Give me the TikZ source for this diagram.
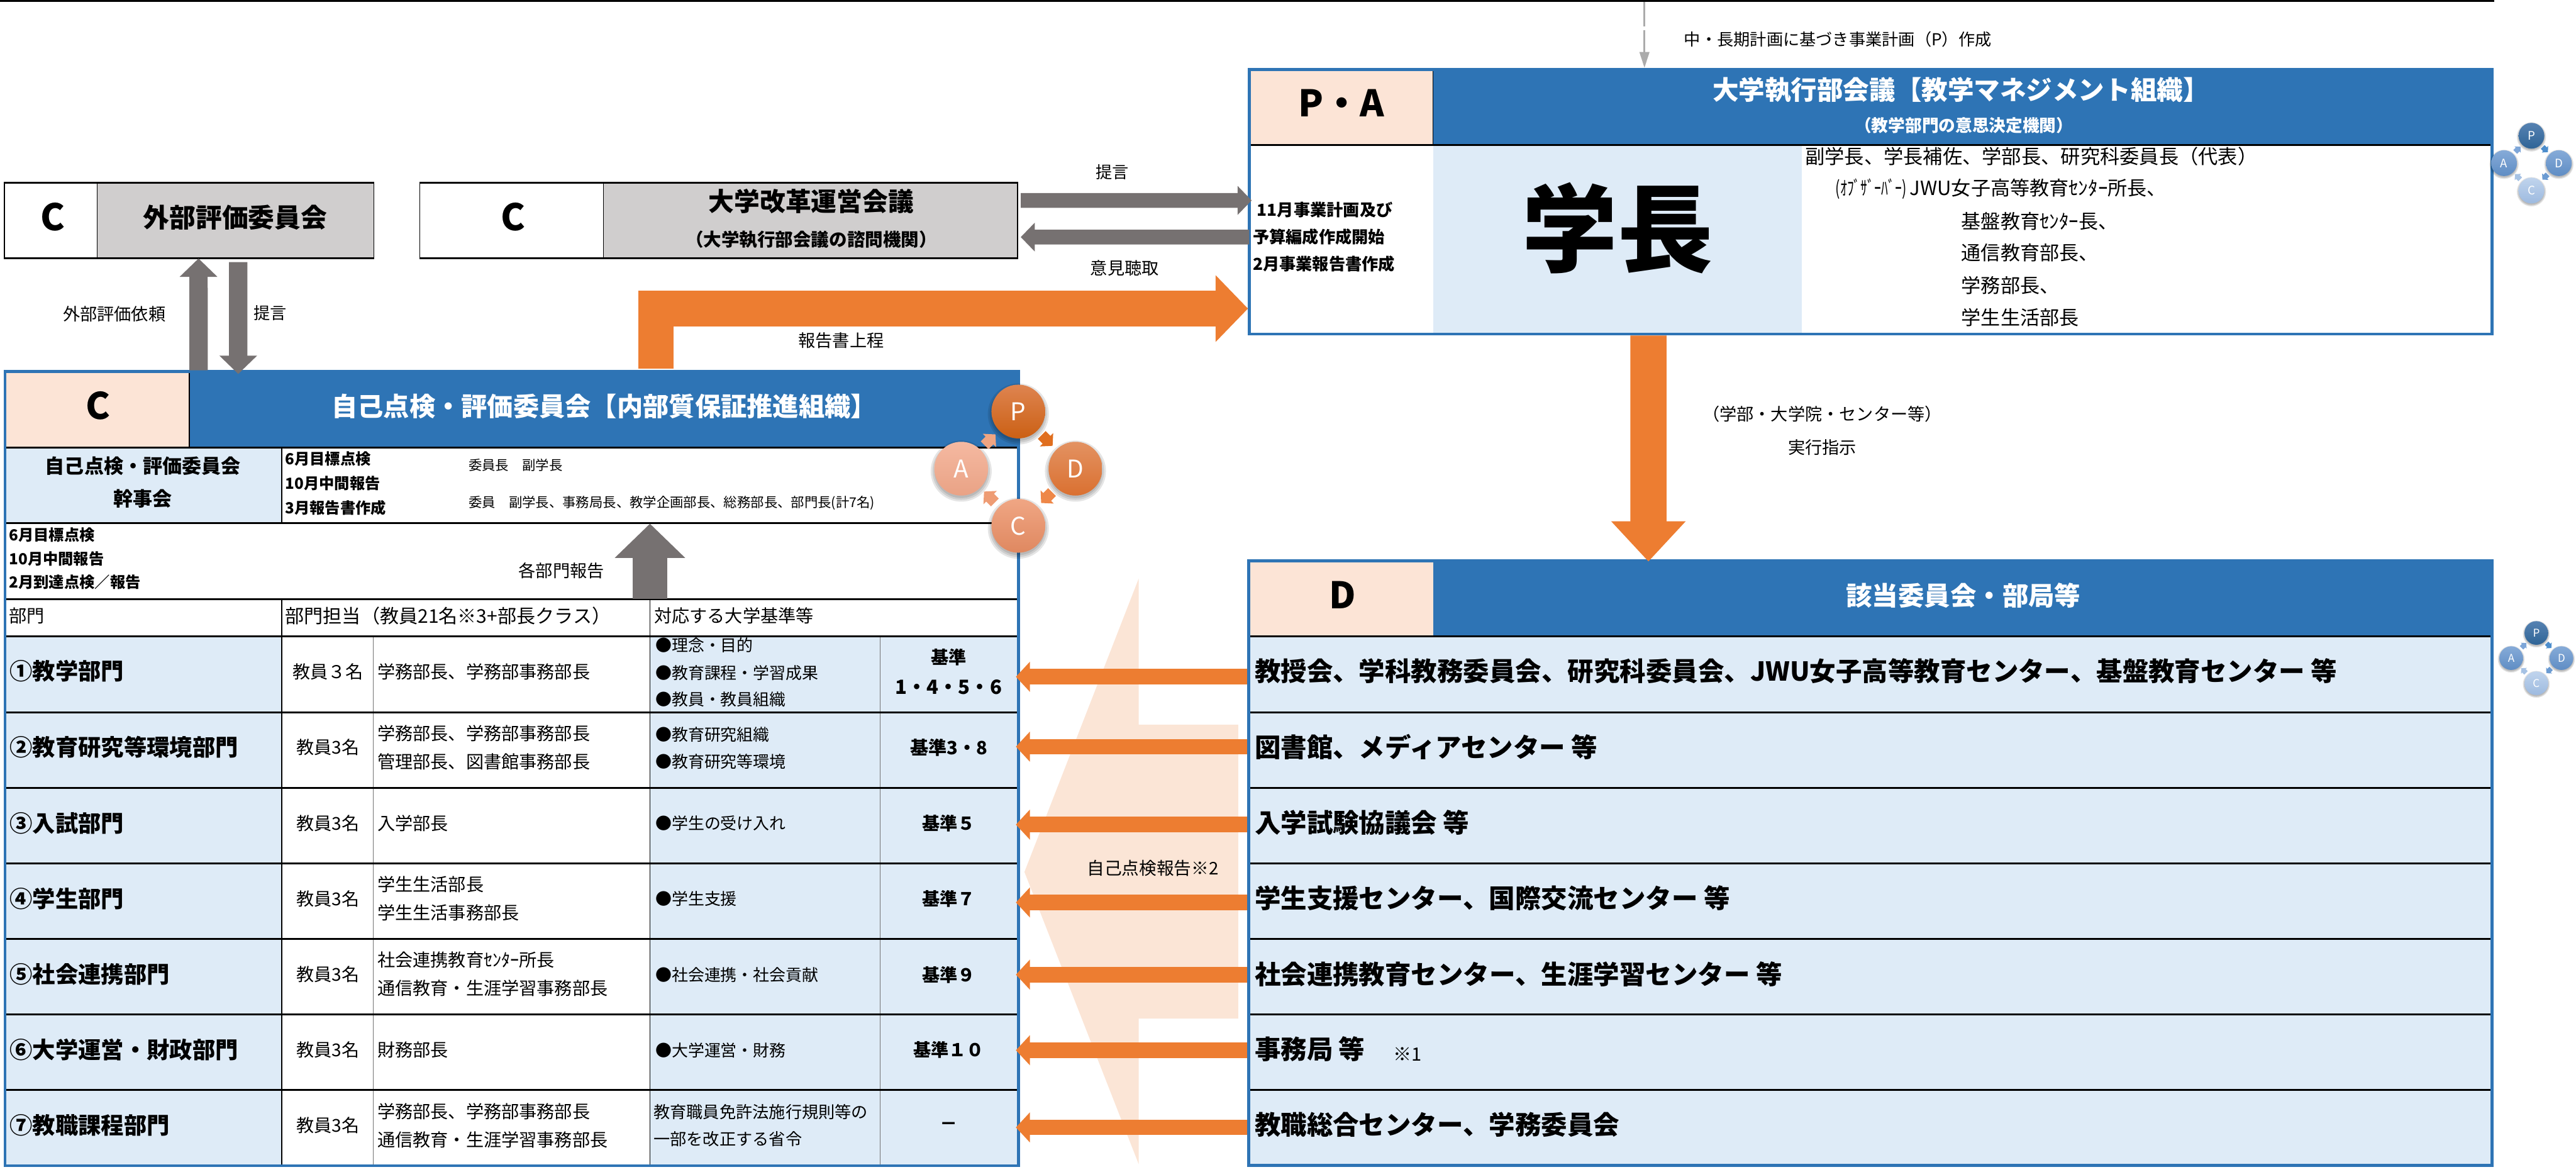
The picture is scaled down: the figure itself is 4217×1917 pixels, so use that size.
\documentclass[tikz,border=0pt]{standalone}
\usepackage{fontspec}
\usepackage{graphicx}
\setmainfont{Noto Sans CJK JP}
\usetikzlibrary{arrows.meta,calc}
\definecolor{hdrblue}{HTML}{2E74B5}
\definecolor{ltblue}{HTML}{DEEBF7}
\definecolor{peach}{HTML}{FCE4D6}
\definecolor{peachbig}{HTML}{FBE5D6}
\definecolor{cgray}{HTML}{D0CECE}
\definecolor{arrgray}{HTML}{767171}
\definecolor{orng}{HTML}{ED7D31}
\definecolor{dashgray}{HTML}{ABABAB}
\newcommand{\fz}[2][0]{\pgfmathsetmacro\fzs{#2*0.2845}\pgfmathsetmacro\fzl{(#1==0 ? 1.2*#2 : #1)*0.2845}\fontsize{\fzs}{\fzl}\selectfont}
\newcommand{\rbox}[6]{\pgfmathsetmacro\rw{(#4-#2)/10}\pgfmathsetmacro\rh{(#5-#3)/10}\node[inner sep=0,outer sep=0,minimum width=\rw mm,minimum height=\rh mm,#6] (#1) at ({(#2+#4)/2},{(#3+#5)/2}) {};}
\newcommand{\pdcaset}[4]{%
\pgfmathsetmacro\ps{#4}\pgfmathsetmacro\pr{2*44*#4/10}\pgfmathsetmacro\pd{93.5*#4}\pgfmathsetmacro\psh{4*#4}%
\foreach \qx/\qy in {0/-1,1/0,0/1,-1/0}{\foreach \qk in {6,3,0}{\fill[black,opacity=.1] ({#2+\qx*\pd},{#3+\qy*\pd+\psh}) circle[radius={(44+\qk)*#4}];}}%
\node[pdcac,minimum size=\pr mm,top color=#1Pt,bottom color=#1Pb,font=\fz{40*#4}] (#1P) at (#2,{#3-\pd}) {P};
\node[pdcac,minimum size=\pr mm,top color=#1Dt,bottom color=#1Db,font=\fz{40*#4}] (#1D) at ({#2+\pd},#3) {D};
\node[pdcac,minimum size=\pr mm,top color=#1Ct,bottom color=#1Cb,font=\fz{40*#4}] (#1C) at (#2,{#3+\pd}) {C};
\node[pdcac,minimum size=\pr mm,top color=#1At,bottom color=#1Ab,font=\fz{40*#4}] (#1A) at ({#2-\pd},#3) {A};
\pgfmathsetmacro\plw{1.8*#4}\pgfmathsetmacro\plh{1.4*#4}\pgfmathsetmacro\pwh{3*#4}%
\draw[draw=#1Pa,line width=\plw mm,-{Triangle[length=\plh mm,width=\pwh mm]}] ($(#1P)!.41!(#1D)$) -- ($(#1P)!.6!(#1D)$);
\draw[draw=#1Da,line width=\plw mm,-{Triangle[length=\plh mm,width=\pwh mm]}] ($(#1D)!.41!(#1C)$) -- ($(#1D)!.6!(#1C)$);
\draw[draw=#1Ca,line width=\plw mm,-{Triangle[length=\plh mm,width=\pwh mm]}] ($(#1C)!.41!(#1A)$) -- ($(#1C)!.6!(#1A)$);
\draw[draw=#1Aa,line width=\plw mm,-{Triangle[length=\plh mm,width=\pwh mm]}] ($(#1A)!.41!(#1P)$) -- ($(#1A)!.6!(#1P)$);
}
\definecolor{oPt}{HTML}{DE8450}\definecolor{oPb}{HTML}{CB6014}
\definecolor{oDt}{HTML}{E39262}\definecolor{oDb}{HTML}{DA7030}
\definecolor{oCt}{HTML}{F0A684}\definecolor{oCb}{HTML}{DF8860}
\definecolor{oAt}{HTML}{F5B9A1}\definecolor{oAb}{HTML}{E9A285}
\definecolor{oPa}{HTML}{E06E1E}\definecolor{oDa}{HTML}{EE8748}
\definecolor{oCa}{HTML}{EE9C74}\definecolor{oAa}{HTML}{F0A582}
\definecolor{bPt}{HTML}{5682B2}\definecolor{bPb}{HTML}{2F6496}
\definecolor{bDt}{HTML}{86ABD8}\definecolor{bDb}{HTML}{5F8DC4}
\definecolor{bCt}{HTML}{C0D4ED}\definecolor{bCb}{HTML}{9DBADF}
\definecolor{bAt}{HTML}{86ABD8}\definecolor{bAb}{HTML}{5F8DC4}
\definecolor{bPa}{HTML}{4C8DCC}\definecolor{bDa}{HTML}{6B9BD2}
\definecolor{bCa}{HTML}{A6C2E4}\definecolor{bAa}{HTML}{7EA6D8}
\tikzset{
 txt/.style={inner sep=0,outer sep=0,font=\fz{#1}},
 btxt/.style={inner sep=0,outer sep=0,font=\bfseries\fz{#1}},
 wtxt/.style={inner sep=0,outer sep=0,text=white,font=\bfseries\fz{#1}},
 two/.style={inner sep=0,outer sep=0,align=left,font=\fz[47]{29}},
 thick3/.style={draw=black,line width=.3mm},
 thin1/.style={draw=black,line width=.15mm},
 thing/.style={draw=black!55,line width=.08mm},
 frame/.style={draw=hdrblue,line width=.45mm},
 grayh/.style={draw=arrgray,line width=2.4mm,-{Triangle[length=2.3mm,width=4.6mm]}},
 grayv/.style={draw=arrgray,line width=3mm,-{Triangle[length=3mm,width=6mm]}},
 grayrep/.style={draw=arrgray,line width=5.6mm,-{Triangle[length=5.6mm,width=11.2mm]}},
 orngl/.style={draw=orng,line width=5.8mm,-{Triangle[length=5.3mm,width=10.6mm]}},
 orngd/.style={draw=orng,line width=5.9mm,-{Triangle[length=6.6mm,width=11.8mm]}},
 orngrow/.style={draw=orng,line width=2.55mm,-{Triangle[length=2.3mm,width=4.8mm]}},
 pdcac/.style={circle,inner sep=0,outer sep=0,text=white},
}
\begin{document}
\begin{tikzpicture}[x=.1mm,y=-.1mm]
\useasboundingbox (0,0) rectangle (4217,1917);
% ---- top rule
\coordinate (ruleL) at (0,1.5); \coordinate (ruleR) at (4083,1.5);
\coordinate (dashtop) at (2692,3); \coordinate (dashend) at (2692,111);
\draw[thick3] (ruleL) -- (ruleR);
% ---- external evaluation box
\rbox{ext}{7}{298}{613}{424}{}
\rbox{extg}{159}{299}{612}{423}{fill=cgray}
\draw[thin1] (7,298) -- (7,424) (159,298) -- (159,424) (612,298) -- (612,424);
\draw[thick3] (7,299.5) -- (613,299.5) (7,422.5) -- (613,422.5);
% ---- reform council box
\rbox{reform}{687}{298}{1667}{424}{}
\rbox{reformg}{988}{299}{1666}{423}{fill=cgray}
\draw[thin1] (687,298) -- (687,424) (988,298) -- (988,424) (1666,298) -- (1666,424);
\draw[thick3] (687,299.5) -- (1667,299.5) (687,422.5) -- (1667,422.5);
% ---- big peach arrow
\fill[peachbig] (1864,947) -- (1864,1186) -- (2027,1186) -- (2027,1667) -- (1864,1667) -- (1864,1905) -- (1677,1427) -- cycle;
% ---- exec panel
\rbox{exec}{2043}{111}{4082}{549}{}
\rbox{exechead}{2043}{111}{4082}{236}{fill=hdrblue}
\rbox{execpa}{2047}{116}{2346}{236}{fill=peach}
\rbox{execcell}{2346}{239}{2950}{546}{fill=ltblue}
\draw[thin1] (2346,116) -- (2346,236);
\draw[thick3] (2047,237) -- (4078,237);
\draw[frame] (2045,113) rectangle (4079.5,546.5);
% ---- self-check panel
\rbox{self}{6}{606}{1669}{1909}{}
\rbox{selfhead}{6}{606}{1670}{731}{fill=hdrblue}
\rbox{selfc}{10}{611}{310}{731}{fill=peach}
\rbox{selfcom}{10}{734}{461}{855}{fill=ltblue}
\rbox{report}{10}{857}{1665}{980}{}
\foreach \i/\a/\b in {1/1041/1165.5,2/1165.5/1289,3/1289/1413,4/1413/1536.5,5/1536.5/1660.5,6/1660.5/1784,7/1784/1908}{
  \rbox{t\i}{10}{\a}{1665}{\b}{}
  \fill[ltblue] (10,\a) rectangle (461,\b) (1064,\a) rectangle (1665,\b);
  \rbox{d\i}{2046}{\a}{4077}{\b}{fill=ltblue}
}
\draw[thin1] (310,611) -- (310,731);
\draw[thin1] (461,734) -- (461,855) (461,982) -- (461,1906) (1064,982) -- (1064,1906);
\draw[thing] (611,1043) -- (611,1906) (1441,1043) -- (1441,1906);
\foreach \yy in {732.5,856,980.5,1041,1165.5,1289,1413,1536.5,1660.5,1784}{\draw[thick3] (10,\yy) -- (1665,\yy);}
\draw[frame] (8,608) rectangle (1667.5,1908);
% ---- D panel
\rbox{dp}{2042}{915}{4082}{1909}{}
\rbox{dphead}{2042}{915}{4082}{1040}{fill=hdrblue}
\rbox{dpc}{2046}{920}{2346}{1040}{fill=peach}
\foreach \yy in {1041,1165.5,1289,1413,1536.5,1660.5,1784}{\draw[thick3] (2046,\yy) -- (4077,\yy);}
\draw[frame] (2044,917) rectangle (4079.5,1907);
% ---- free labels
\node[txt=27,anchor=west] (lplan) at (2757,64) {中・長期計画に基づき事業計画（P）作成};
\node[btxt=60] (lpa) at (2196,169) {P・A};
\node[wtxt=42.8] (lexec) at (3210,147) {大学執行部会議【教学マネジメント組織】};
\node[wtxt=27.5] (lexec2) at (3215,205) {（教学部門の意思決定機関）};
\node[btxt=156] (lgakucho) at (2648,373) {学長};
\node[btxt=27,anchor=west] (l11) at (2058,343) {11月事業計画及び};
\node[btxt=27,anchor=west] (l11b) at (2051,388) {予算編成作成開始};
\node[btxt=27,anchor=west] (l11c) at (2051,432) {2月事業報告書作成};
\node[txt=32.2,anchor=west] (lm1) at (2955,256) {副学長、学長補佐、学部長、研究科委員長（代表）};
\node[txt=32,anchor=west] (lm2) at (3005,309) {\scalebox{.7}[1]{(ｵﾌﾞｻﾞｰﾊﾞｰ)}\,JWU女子高等教育ｾﾝﾀｰ所長、};
\node[txt=32,anchor=west] (lm3) at (3211,362) {基盤教育ｾﾝﾀｰ長、};
\node[txt=32,anchor=west] (lm4) at (3211,414) {通信教育部長、};
\node[txt=32,anchor=west] (lm5) at (3211,467) {学務部長、};
\node[txt=32,anchor=west] (lm6) at (3211,520) {学生生活部長};
\node[btxt=60] (lc1) at (86,355) {C};
\node[btxt=43] (lext) at (385,356) {外部評価委員会};
\node[btxt=60] (lc2) at (840,355) {C};
\node[btxt=42] (lref) at (1328,329) {大学改革運営会議};
\node[btxt=29.4] (lref2) at (1328,392) {（大学執行部会議の諮問機関）};
\node[txt=27] (lt1) at (1821,282) {提言};
\node[txt=28] (lt2) at (1841,439) {意見聴取};
\node[txt=28] (lt3) at (187,514) {外部評価依頼};
\node[txt=27] (lt4) at (442,512) {提言};
\node[txt=28] (lt5) at (1377,557) {報告書上程};
\node[txt=28] (lt6) at (2983,678) {（学部・大学院・センター等）};
\node[txt=28] (lt7) at (2983,732) {実行指示};
\node[btxt=60] (lc3) at (161,664) {C};
\node[wtxt=42.5] (lself) at (989,665) {自己点検・評価委員会【内部質保証推進組織】};
\node[btxt=32] (lcom1) at (234,763) {自己点検・評価委員会};
\node[btxt=32] (lcom2) at (234,816) {幹事会};
\node[btxt=25,anchor=west] (ls1) at (467,751) {6月目標点検};
\node[btxt=25,anchor=west] (ls2) at (467,791) {10月中間報告};
\node[btxt=25,anchor=west] (ls3) at (467,831) {3月報告書作成};
\node[txt=22,anchor=west] (ls4) at (767,761) {委員長　副学長};
\node[txt=22,anchor=west] (ls5) at (767,823) {委員　副学長、事務局長、教学企画部長、総務部長、部門長(計7名)};
\node[btxt=25,anchor=west] (lr1) at (15,875) {6月目標点検};
\node[btxt=25,anchor=west] (lr2) at (15,914) {10月中間報告};
\node[btxt=25,anchor=west] (lr3) at (15,953) {2月到達点検／報告};
\node[txt=28] (lrep) at (919,934) {各部門報告};
\node[txt=29,anchor=west] (lh1) at (15,1008) {部門};
\node[txt=31,anchor=west] (lh2) at (467,1008) {部門担当（教員21名※3+部長クラス）};
\node[txt=29,anchor=west] (lh3) at (1071,1008) {対応する大学基準等};
% ---- table rows
\node[btxt=37.4,anchor=west] (n1) at (16,1098) {①教学部門};
\node[btxt=37.4,anchor=west] (n2) at (16,1223) {②教育研究等環境部門};
\node[btxt=37.4,anchor=west] (n3) at (16,1347) {③入試部門};
\node[btxt=37.4,anchor=west] (n4) at (16,1471) {④学生部門};
\node[btxt=37.4,anchor=west] (n5) at (16,1594) {⑤社会連携部門};
\node[btxt=37.4,anchor=west] (n6) at (16,1718) {⑥大学運営・財政部門};
\node[btxt=37.4,anchor=west] (n7) at (16,1842) {⑦教職課程部門};
\node[txt=29] (f1) at (537,1099) {教員３名};
\foreach \i/\yy in {2/1223,3/1347,4/1471,5/1595,6/1718,7/1842}{\node[txt=29] (f\i) at (537,\yy) {教員3名};}
\node[txt=29,anchor=west] (m1) at (618,1099) {学務部長、学務部事務部長};
\node[two,anchor=west] (m2) at (618,1223.5) {学務部長、学務部事務部長\\管理部長、図書館事務部長};
\node[txt=29,anchor=west] (m3) at (618,1347) {入学部長};
\node[two,anchor=west] (m4) at (618,1470.5) {学生生活部長\\学生生活事務部長};
\node[two,anchor=west] (m5) at (618,1594) {社会連携教育ｾﾝﾀｰ所長\\通信教育・生涯学習事務部長};
\node[txt=29,anchor=west] (m6) at (618,1718) {財務部長};
\node[two,anchor=west] (m7) at (618,1842) {学務部長、学務部事務部長\\通信教育・生涯学習事務部長};
\node[txt=26.7,anchor=west] (s1a) at (1073,1056) {●理念・目的};
\node[txt=26.7,anchor=west] (s1b) at (1073,1101) {●教育課程・学習成果};
\node[txt=26.7,anchor=west] (s1c) at (1073,1145) {●教員・教員組織};
\node[txt=26.7,anchor=west] (s2a) at (1073,1202) {●教育研究組織};
\node[txt=26.7,anchor=west] (s2b) at (1073,1246) {●教育研究等環境};
\node[txt=26.7,anchor=west] (s3) at (1073,1347) {●学生の受け入れ};
\node[txt=26.7,anchor=west] (s4) at (1073,1471) {●学生支援};
\node[txt=26.7,anchor=west] (s5) at (1073,1595) {●社会連携・社会貢献};
\node[txt=26.7,anchor=west] (s6) at (1073,1719) {●大学運営・財務};
\node[txt=27,anchor=west] (s7a) at (1070,1820) {教育職員免許法施行規則等の};
\node[txt=27,anchor=west] (s7b) at (1070,1864) {一部を改正する省令};
\node[btxt=29] (k1a) at (1553,1076) {基準};
\node[btxt=32] (k1b) at (1553,1124) {1・4・5・6};
\node[btxt=30] (k2) at (1553,1223) {基準3・8};
\node[btxt=29] (k3) at (1553,1347) {基準５};
\node[btxt=29] (k4) at (1553,1471) {基準７};
\node[btxt=29] (k5) at (1553,1595) {基準９};
\node[btxt=29] (k6) at (1553,1718) {基準１０};
\node[btxt=29] (k7) at (1553,1843) {－};
% ---- D panel text
\node[btxt=60] (lc4) at (2198,974) {D};
\node[wtxt=42.7] (ld) at (3214,975) {該当委員会・部局等};
\node[btxt=42.7,anchor=west] (dt1) at (2054,1098) {教授会、学科教務委員会、研究科委員会、JWU女子高等教育センター、基盤教育センター 等};
\node[btxt=42.7,anchor=west] (dt2) at (2054,1222) {図書館、メディアセンター 等};
\node[btxt=42.7,anchor=west] (dt3) at (2054,1346) {入学試験協議会 等};
\node[btxt=42.7,anchor=west] (dt4) at (2054,1469.5) {学生支援センター、国際交流センター 等};
\node[btxt=42.7,anchor=west] (dt5) at (2054,1594) {社会連携教育センター、生涯学習センター 等};
\node[btxt=42.7,anchor=west] (dt6) at (2054,1717) {事務局 等};
\node[txt=30,anchor=west] (dnote) at (2281,1725) {※1};
\node[btxt=42.7,anchor=west] (dt7) at (2054,1840.5) {教職総合センター、学務委員会};
\node[txt=28.5] (lsr) at (1887,1421) {自己点検報告※2};
% ---- connectors
\draw[draw=dashgray,line width=.28mm,dash pattern=on 4mm off .6mm,-{Triangle[length=2.6mm,width=1.6mm]}] (dashtop) -- (dashend);
\draw[grayh] ([xshift=.4mm,yshift=3.3mm]reform.east) -- ([xshift=.6mm,yshift=.2mm]exec.west);
\draw[grayh] ([xshift=.2mm,yshift=-5.8mm]exec.west) -- ([xshift=.4mm,yshift=-2.7mm]reform.east);
\draw[grayv] ([xshift=-51.25mm]self.north) -- ([xshift=1.5mm,yshift=.1mm]ext.south);
\draw[grayv] ([xshift=8mm,yshift=-.5mm]ext.south) -- ([xshift=-44.75mm,yshift=-.6mm]self.north);
\draw[orngl] ([xshift=23.65mm,yshift=.3mm]self.north) |- ([yshift=-17.5mm]exec.west);
\draw[grayrep] ([xshift=22.65mm]report.south) -- ([xshift=22.65mm]report.north);
\draw[orngd] ([xshift=-36.4mm]exec.south) -- ([xshift=-36.35mm,yshift=-.4mm]dp.north);
\foreach \i/\dy in {1/-.43,2/.53,3/.15,4/-.21,5/.35,6/.35,7/.1}{
  \draw[orngrow] ([xshift=-.4mm,yshift=\dy mm]d\i.west) -- ([xshift=-.2mm,yshift=\dy mm]t\i.east);
}
% ---- PDCA cycles
\pdcaset{o}{1667}{767}{1}
\pdcaset{b}{4144}{267}{.48}
\colorlet{cPt}{bPt}\colorlet{cPb}{bPb}\colorlet{cDt}{bDt}\colorlet{cDb}{bDb}\colorlet{cCt}{bCt}\colorlet{cCb}{bCb}\colorlet{cAt}{bAt}\colorlet{cAb}{bAb}
\colorlet{cPa}{bPa}\colorlet{cDa}{bDa}\colorlet{cCa}{bCa}\colorlet{cAa}{bAa}
\pdcaset{c}{4152}{1077}{.44}
\end{tikzpicture}
\end{document}
